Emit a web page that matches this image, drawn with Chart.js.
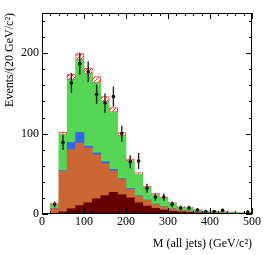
<!DOCTYPE html>
<html>
<head>
<meta charset="utf-8">
<script src="https://cdn.jsdelivr.net/npm/chart.js@4"></script>
<style>
  html, body { margin: 0; padding: 0; background: #fff; }
  #wrap { width: 266px; height: 255px; }
</style>
</head>
<body>
<div id="wrap"><canvas id="massChart" width="266" height="255"></canvas></div>
<script>
// --- Data (20 GeV bins, 0-500) ---
const binCenters = [10, 30, 50, 70, 90, 110, 130, 150, 170, 190, 210, 230, 250,
                    270, 290, 310, 330, 350, 370, 390, 410, 430, 450, 470, 490];
const darkRed = [0, 0, 2.5, 6.5, 10.5, 14, 19, 23, 27, 24, 20, 14, 10, 7, 5, 3.5, 2.5, 2, 1.5, 1, 0.8, 0.6, 0.5, 0.4, 0.4];
const brown   = [0, 6.6, 50.5, 73.5, 77.5, 68, 54.5, 39.5, 26.5, 19.5, 10.5, 8, 7, 5, 4, 3, 2, 1.5, 1, 1, 0.7, 0.6, 0.5, 0.4, 0.4];
const blue    = [0, 0.5, 1, 9, 13.5, 2.5, 2.5, 2.5, 2, 0.7, 1.2, 0.6, 0.4, 0.3, 0.2, 0.1, 0.1, 0.1, 0, 0, 0, 0, 0, 0, 0];
const green   = [0, 4, 45, 78, 90, 90, 87, 74, 71, 53, 34, 27, 15, 11, 10, 6.5, 4, 4, 2.5, 1.5, 1.5, 1.3, 1, 0.7, 0.7];
const uncBand = [0, 2, 3, 7, 8, 7, 8, 7, 6, 4, 3, 2, 2, 2, 1.5, 1.5, 1.2, 1, 1, 0.8, 0.8, 0.8, 0.7, 0.7, 0.7];
const dataVals = [null, 12, 89, 163, 187, 177, 149, 138, 146, 100, 65, 66, 32, 21, 21, 12, 7.5, 7.5, 5, 3, 3, 4.5, null, null, 2.5];
const dataErrs = [0, 3.5, 9.5, 12.5, 13.5, 13, 12, 12, 12.5, 10, 8, 10, 5.7, 4.6, 4.6, 3.5, 2.7, 2.7, 2.2, 1.7, 1.7, 2.1, 0, 0, 1.6];
const xTickLabels = [0, 100, 200, 300, 400, 500];
const yTickLabels = [0, 100, 200];

const pts = arr => binCenters.map((c, i) => ({ x: c, y: arr[i] }));

// red hatch pattern for the MC uncertainty
function makeHatch() {
    const c = document.createElement('canvas');
    c.width = 4; c.height = 4;
    const g = c.getContext('2d');
    g.fillStyle = '#fff';
    g.fillRect(0, 0, 4, 4);
    g.strokeStyle = '#ff3333';
    g.lineWidth = 1;
    g.beginPath();
    g.moveTo(0, 4); g.lineTo(4, 0);
    g.moveTo(-1, 1); g.lineTo(1, -1);
    g.moveTo(3, 5); g.lineTo(5, 3);
    g.stroke();
    return g.createPattern(c, 'repeat');
}

// error bars for the data points
const errorBars = {
    id: 'errorBars',
    afterDatasetsDraw(chart) {
        const { ctx, scales: { x, y } } = chart;
        ctx.save();
        ctx.strokeStyle = '#222';
        ctx.lineWidth = 1.4;
        ctx.beginPath();
        dataVals.forEach((v, i) => {
            if (v === null || !dataErrs[i]) return;
            const px = x.getPixelForValue(binCenters[i]);
            ctx.moveTo(px, y.getPixelForValue(v - dataErrs[i]));
            ctx.lineTo(px, y.getPixelForValue(v + dataErrs[i]));
        });
        ctx.stroke();
        ctx.restore();
    }
};

// frame with inward ticks on all four sides
const frameTicks = {
    id: 'frameTicks',
    afterDraw(chart) {
        const { ctx, chartArea: a, scales: { x, y } } = chart;
        ctx.save();
        ctx.strokeStyle = '#000';
        ctx.lineWidth = 1;
        ctx.strokeRect(a.left + 0.5, a.top + 0.5, a.right - a.left - 1, a.bottom - a.top - 1);
        ctx.beginPath();
        for (let v = 0; v <= 500; v += 20) {
            const px = Math.round(x.getPixelForValue(v)) + 0.5;
            const len = v % 100 === 0 ? 6 : 3;
            ctx.moveTo(px, a.bottom); ctx.lineTo(px, a.bottom - len);
            ctx.moveTo(px, a.top); ctx.lineTo(px, a.top + len);
        }
        for (let v = 0; v <= 240; v += 20) {
            const py = Math.round(y.getPixelForValue(v)) + 0.5;
            const len = v % 100 === 0 ? 6 : 3;
            ctx.moveTo(a.left, py); ctx.lineTo(a.left + len, py);
            ctx.moveTo(a.right, py); ctx.lineTo(a.right - len, py);
        }
        ctx.stroke();
        ctx.restore();
    }
};

const serif = 'Liberation Serif, Times New Roman, serif';
const stackBar = (label, arr, color) => ({
    type: 'bar', label, data: pts(arr), backgroundColor: color,
    borderWidth: 0, stack: 'mc', barPercentage: 1, categoryPercentage: 1
});

new Chart(document.getElementById('massChart'), {
    type: 'bar',
    data: {
        datasets: [
            {
                type: 'scatter', label: 'Data', data: pts(dataVals), stack: 'data',
                backgroundColor: '#000', borderColor: '#000', pointRadius: 1.8, borderWidth: 0
            },
            stackBar('dark', darkRed, '#660000'),
            stackBar('brown', brown, '#cc6633'),
            stackBar('blue', blue, '#3366ee'),
            stackBar('green', green, '#55d655'),
            Object.assign(stackBar('unc', uncBand, makeHatch()), {
                borderColor: '#ff3333', borderWidth: 1, borderSkipped: false
            })
        ]
    },
    options: {
        responsive: false,
        animation: false,
        layout: { padding: { left: 0, top: 13, right: 14, bottom: 0 } },
        plugins: { legend: { display: false }, tooltip: { enabled: false } },
        scales: {
            x: {
                type: 'linear', min: 0, max: 500, offset: false, stacked: true,
                grid: { display: false, drawTicks: false }, border: { display: false },
                afterBuildTicks: s => { s.ticks = xTickLabels.map(v => ({ value: v })); },
                ticks: { color: '#000', padding: 1, maxRotation: 0, font: { family: serif, size: 12 } },
                title: {
                    display: true, text: 'M (all jets) (GeV/c²)', align: 'end', color: '#000',
                    padding: { top: 2, bottom: 4 }, font: { family: serif, size: 12 }
                },
                afterFit: s => { s.height = 41; }
            },
            y: {
                min: 0, max: 250, stacked: true,
                grid: { display: false, drawTicks: false }, border: { display: false },
                afterBuildTicks: s => { s.ticks = yTickLabels.map(v => ({ value: v })); },
                ticks: { color: '#000', padding: 3, font: { family: serif, size: 12 } },
                title: {
                    display: true, text: 'Events/(20 GeV/c²)', align: 'end', color: '#000',
                    padding: { top: 3, bottom: 2 }, font: { family: serif, size: 12 }
                },
                afterFit: s => { s.width = 42; }
            }
        }
    },
    plugins: [errorBars, frameTicks]
});
</script>
</body>
</html>
